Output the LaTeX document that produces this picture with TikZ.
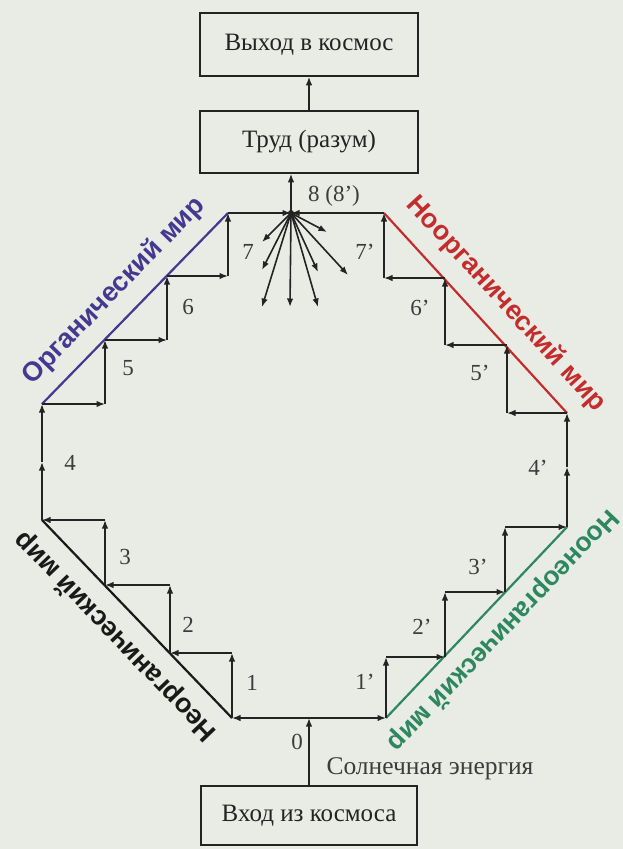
\documentclass[tikz,border=0pt]{standalone}
\usepackage{fontspec}
\setmainfont{Liberation Serif}
\setsansfont{Liberation Sans}
\usetikzlibrary{arrows.meta}
\definecolor{bg}{RGB}{233,236,228}
\definecolor{ink}{RGB}{35,35,35}
\definecolor{lbl}{RGB}{60,60,60}
\definecolor{orgblue}{RGB}{70,55,145}
\definecolor{noored}{RGB}{195,45,45}
\definecolor{noogreen}{RGB}{45,135,95}
\definecolor{inorg}{RGB}{25,25,25}
\begin{document}
\begin{tikzpicture}[x=1pt,y=-1pt,
  arr/.style={draw=ink, line width=1.6pt, -{Latex[length=8.5pt,width=6.5pt]}},
  box/.style={draw=ink, line width=1.5pt, minimum width=218pt, minimum height=63pt, font=\fontsize{25}{28}\selectfont, text=ink, inner sep=0pt},
  num/.style={font=\fontsize{23}{25}\selectfont, text=lbl, inner sep=0pt},
  world/.style={font=\sffamily\bfseries\fontsize{27}{29}\selectfont, inner sep=0pt},
  wline/.style={line width=2.2pt},
]
\path[fill=bg] (0,0) rectangle (623,849);
\useasboundingbox (0,0) rectangle (623,849);

% boxes
\node[box] (vyhod) at (309,44.5) {Выход в космос};
\node[box, minimum height=62pt] (trud) at (309,142) {Труд (разум)};
\node[box, minimum width=216pt, minimum height=59pt] (vhod) at (309,815.5) {Вход из космоса};

% key points
\coordinate (S) at (291,213);
\coordinate (LT) at (228,213);
\coordinate (RT) at (384,213);
\coordinate (P0) at (309,718);
% left upper (organic)
\coordinate (A1) at (42,404);
\coordinate (A2) at (105,404);
\coordinate (A3) at (105,340);
\coordinate (A4) at (167,340);
\coordinate (A5) at (167,276);
\coordinate (A6) at (228,276);
% left vertical
\coordinate (B0) at (42,520);
\coordinate (Bm) at (42,462);
% left lower (inorganic)
\coordinate (C0) at (232,718);
\coordinate (C1) at (232,653);
\coordinate (C2) at (170,653);
\coordinate (C3) at (170,585);
\coordinate (C4) at (105,585);
\coordinate (C5) at (105,520);
% right lower (noo-inorganic)
\coordinate (D0) at (386,718);
\coordinate (D1) at (386,657);
\coordinate (D2) at (445,657);
\coordinate (D3) at (445,592);
\coordinate (D4) at (505,592);
\coordinate (D5) at (505,527);
\coordinate (D6) at (567,527);
\coordinate (Dm) at (567,467);
% right upper (noorganic)
\coordinate (E0) at (567,413);
\coordinate (E1) at (507,413);
\coordinate (E2) at (507,345);
\coordinate (E3) at (445,345);
\coordinate (E4) at (445,278);
\coordinate (E5) at (384,278);
% ends of the star rays
\coordinate (R1) at (262,242);
\coordinate (R2) at (262,270);
\coordinate (R3) at (262,307);
\coordinate (R4) at (290,307);
\coordinate (R5) at (318,307);
\coordinate (R6) at (318,272);
\coordinate (R7) at (348,275);
\coordinate (R8) at (327,232);

% coloured world lines
\draw[wline, orgblue] (A1) -- (LT);
\draw[wline, noored] (RT) -- (E0);
\draw[wline, noogreen] (D0) -- (D6);
\draw[wline, inorg] (B0) -- (C0);

% vertical arrows between boxes
\draw[arr] (trud.north) -- (vyhod.south);
\draw[arr] (S) -- (S |- trud.south);
\draw[arr] (vhod.north) -- (P0);

% bottom line
\draw[arr] (P0) -- (C0);
\draw[arr] (P0) -- (D0);

% left lower stairs
\draw[arr] (C0) -- (C1);
\draw[arr] (C1) -- (C2);
\draw[arr] (C2) -- (C3);
\draw[arr] (C3) -- (C4);
\draw[arr] (C4) -- (C5);
\draw[arr] (C5) -- (B0);
% left vertical
\draw[arr] (B0) -- (Bm);
\draw[arr] (Bm) -- (A1);
% left upper stairs
\draw[arr] (A1) -- (A2);
\draw[arr] (A2) -- (A3);
\draw[arr] (A3) -- (A4);
\draw[arr] (A4) -- (A5);
\draw[arr] (A5) -- (A6);
\draw[arr] (A6) -- (LT);

% right lower stairs
\draw[arr] (D0) -- (D1);
\draw[arr] (D1) -- (D2);
\draw[arr] (D2) -- (D3);
\draw[arr] (D3) -- (D4);
\draw[arr] (D4) -- (D5);
\draw[arr] (D5) -- (D6);
% right vertical
\draw[arr] (D6) -- (Dm);
\draw[arr] (Dm) -- (E0);
% right upper stairs
\draw[arr] (E0) -- (E1);
\draw[arr] (E1) -- (E2);
\draw[arr] (E2) -- (E3);
\draw[arr] (E3) -- (E4);
\draw[arr] (E4) -- (E5);
\draw[arr] (E5) -- (RT);

% top line into the star
\draw[arr] (LT) -- (S);
\draw[arr] (RT) -- (S);

% rays of the star
\draw[arr] (S) -- (R1);
\draw[arr] (S) -- (R2);
\draw[arr] (S) -- (R3);
\draw[arr] (S) -- (R4);
\draw[arr] (S) -- (R5);
\draw[arr] (S) -- (R6);
\draw[arr] (S) -- (R7);
\draw[arr] (S) -- (R8);
\fill[ink] (S) circle (3pt);

% numbers
\node[num] (n8) at (334,196) {8 (8’)};
\node[num] (n7) at (248,252) {7};
\node[num] (n6) at (188,307) {6};
\node[num] (n5) at (128,368) {5};
\node[num] (n4) at (70,463) {4};
\node[num] (n3) at (125,557) {3};
\node[num] (n2) at (188,625) {2};
\node[num] (n1) at (252,683) {1};
\node[num] (n0) at (297,742) {0};
\node[num] (m7) at (365,252) {7’};
\node[num] (m6) at (420,308) {6’};
\node[num] (m5) at (480,373) {5’};
\node[num] (m4) at (538,468) {4’};
\node[num] (m3) at (478,567) {3’};
\node[num] (m2) at (422,627) {2’};
\node[num] (m1) at (365,682) {1’};
\node[num, font=\fontsize{25.5}{28}\selectfont] (sun) at (430,769) {Солнечная энергия};

% world labels
\node[world, text=orgblue, rotate=45.9] (wo) at (114,291) {Органический мир};
\node[world, text=noored, rotate=-47.5] (wr) at (506,304) {Ноорганический мир};
\node[world, text=noogreen, rotate=-133.5, font=\sffamily\bfseries\fontsize{26.5}{29}\selectfont] (wg) at (503,630) {Ноонеорганический мир};
\node[world, text=inorg, rotate=133.8] (wb) at (116,636) {Неорганический мир};
\end{tikzpicture}
\end{document}
